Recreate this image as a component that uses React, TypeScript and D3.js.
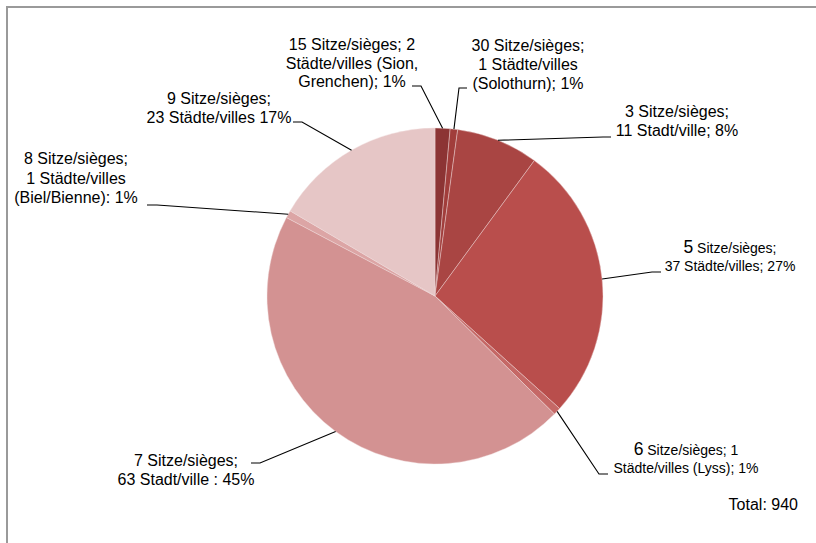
import React from 'react';
import * as d3 from 'd3';

// seats per council and number of cities with that council size
const seatsPerCity = [15, 30, 3, 5, 6, 7, 8, 9];
const cityCounts = [2, 1, 11, 37, 1, 63, 1, 23];
const sliceColors = ['#8c3434', '#a13d3b', '#a94543', '#b94e4c', '#c56866', '#d39292', '#dca5a5', '#e6c6c6'];
const labelLines = [
  ['15 Sitze/sièges; 2', 'Städte/villes (Sion,', 'Grenchen); 1%'],
  ['30 Sitze/sièges;', '1 Städte/villes', '(Solothurn); 1%'],
  ['3 Sitze/sièges;', '11 Stadt/ville; 8%'],
  [' Sitze/sièges;', '37 Städte/villes; 27%'],
  [' Sitze/sièges; 1', 'Städte/villes (Lyss); 1%'],
  ['7 Sitze/sièges;', '63 Stadt/ville : 45%'],
  ['8 Sitze/sièges;', '1 Städte/villes', '(Biel/Bienne): 1%'],
  ['9 Sitze/sièges;', '23 Städte/villes 17%'],
];
const totalLabel = 'Total: 940';

// label placement (text centre, first baseline, line gap, leader elbow and end)
const labelLayout = [
  { x: 352, y: 50, gap: 18.5, small: false, elbow: [421, 86], end: [412, 86] },
  { x: 528, y: 51, gap: 19, small: false, elbow: [459, 88], end: [467, 88] },
  { x: 677, y: 117, gap: 19, small: false, elbow: [603, 137], end: [611, 137] },
  { x: 730, y: 253, gap: 18, small: true, elbow: [652, 272], end: [661, 272] },
  { x: 686, y: 455, gap: 17.5, small: true, elbow: [599, 474], end: [608, 474] },
  { x: 186, y: 466, gap: 19, small: false, elbow: [260, 463], end: [251, 463] },
  { x: 76, y: 164, gap: 19.5, small: false, elbow: [157, 205], end: [147, 205] },
  { x: 219, y: 104, gap: 19, small: false, elbow: [302, 122], end: [293, 122] },
];

const W = 816;
const H = 543;
const cx = 435;
const cy = 296;
const radius = 168;
const font = '"Liberation Sans", Arial, sans-serif';

export default function App() {
  const pie = d3.pie<number>().sort(null).value(d => d);
  const arcs = pie(cityCounts);
  const arc = d3.arc<d3.PieArcDatum<number>>().innerRadius(0).outerRadius(radius);

  return (
    <svg width={W} height={H} style={{ position: 'absolute', left: 0, top: 0, background: '#fff' }}
      fontFamily={font}>
      <rect x={7} y={7} width={W + 20} height={H + 20} fill="#fff" stroke="#9a9a9a" strokeWidth={2} />
      <g transform={`translate(${cx},${cy})`}>
        {arcs.map((a, i) => (
          <path key={i} d={arc(a) || ''} fill={sliceColors[i]} stroke="#f0dede" strokeWidth={0.6} strokeOpacity={0.7} />
        ))}
      </g>
      {arcs.map((a, i) => {
        const mid = (a.startAngle + a.endAngle) / 2;
        const px = cx + radius * Math.sin(mid);
        const py = cy - radius * Math.cos(mid);
        const l = labelLayout[i];
        const pts = [[px, py], l.elbow, l.end];
        return (
          <path key={'l' + i} d={d3.line()(pts as [number, number][]) || ''} fill="none" stroke="#000" strokeWidth={1.1} />
        );
      })}
      {labelLines.map((lines, i) => {
        const l = labelLayout[i];
        return (
          <text key={'t' + i} x={l.x} textAnchor="middle" fontSize={l.small ? 14 : 16} fill="#000">
            {lines.map((s, j) => (
              <tspan key={j} x={l.x} y={l.y + j * l.gap}>
                {l.small && j === 0 ? <tspan fontSize={17.5}>{seatsPerCity[i]}</tspan> : null}
                {s}
              </tspan>
            ))}
          </text>
        );
      })}
      <text x={798} y={510} textAnchor="end" fontSize={16} fill="#000">{totalLabel}</text>
    </svg>
  );
}
